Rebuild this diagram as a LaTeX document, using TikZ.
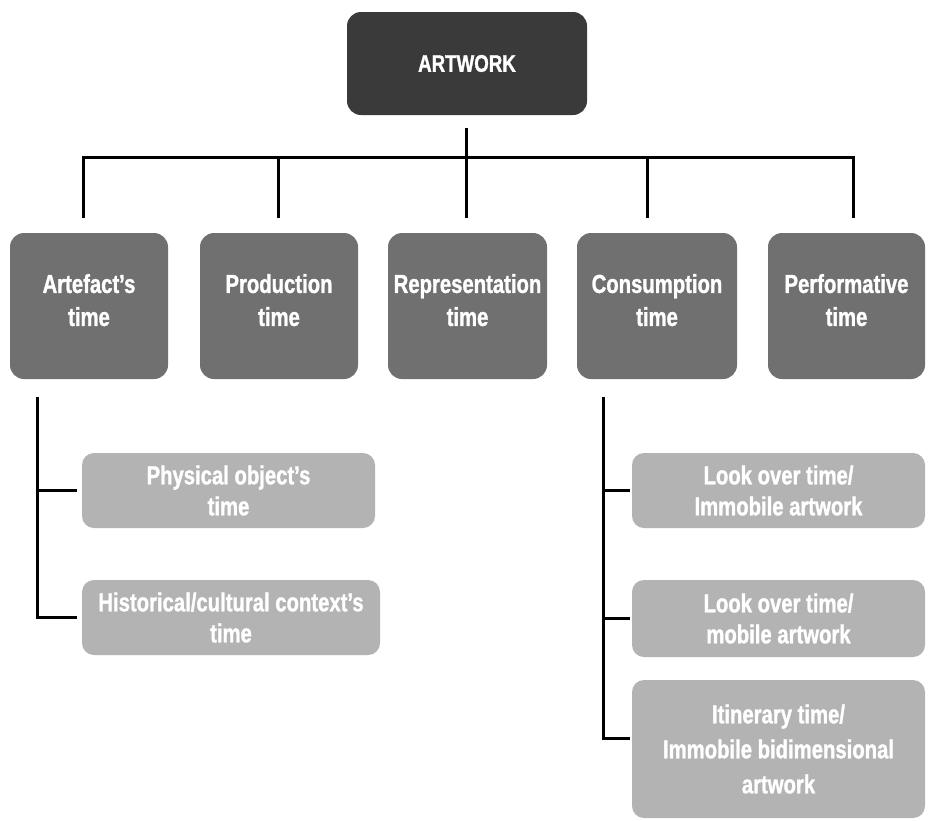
\documentclass[tikz,border=0pt]{standalone}
\usepackage{fontspec}
\setmainfont{Liberation Sans}[FakeStretch=0.78, BoldFeatures={FakeBold=1.2}]
\definecolor{topc}{HTML}{3A3A3A}
\definecolor{midc}{HTML}{707070}
\definecolor{subc}{HTML}{B3B3B3}
\begin{document}
\begin{tikzpicture}[x=1pt,y=-1pt,
  box/.style={rounded corners=14pt, inner sep=0pt, align=center, text=white,
    font=\fontsize{26}{33}\selectfont\bfseries},
  topbox/.style={box, fill=topc, minimum width=240pt, minimum height=103pt,
    font=\fontsize{24}{28}\selectfont\bfseries},
  midbox/.style={box, fill=midc, minimum height=146pt, text depth=12pt},
  subbox/.style={box, fill=subc, rounded corners=12pt, minimum width=293pt, minimum height=75pt,
    font=\fontsize{26}{31}\selectfont\bfseries},
  conn/.style={draw=black, line width=3pt}]
\useasboundingbox (0,0) rectangle (928,820);
\fill[white] (0,0) rectangle (928,820);

\node[topbox] (art) at (467,63.5) {ARTWORK};

\node[midbox, minimum width=158pt] (afct) at (89,306) {Artefact's\\time};
\node[midbox, minimum width=158pt] (prod) at (279,306) {Production\\time};
\node[midbox, minimum width=159pt] (repr) at (467.5,306) {Representation\\time};
\node[midbox, minimum width=160pt] (cons) at (657,306) {Consumption\\time};
\node[midbox, minimum width=157pt] (perf) at (846.5,306) {Performative\\time};

\node[subbox] (phys) at (228.5,490.5) {Physical object's\\time};
\node[subbox, minimum width=298pt] (hist) at (231,617.5) {Historical/cultural context's\\time};

\node[subbox] (look1) at (778.5,490.5) {Look over time/\\Immobile artwork};
\node[subbox, minimum height=77pt] (look2) at (778.5,618.5) {Look over time/\\mobile artwork};
\node[subbox, minimum height=138pt, font=\fontsize{26}{35}\selectfont\bfseries] (itin) at (778.5,749) {Itinerary time/\\Immobile bidimensional\\artwork};

% tree connectors
\coordinate (stem) at (466,128);
\coordinate (barl) at (83,157);
\coordinate (barr) at (853,157);
\coordinate (e1) at (83,218);
\coordinate (e2) at (278,218);
\coordinate (e3) at (466,218);
\coordinate (e4) at (647,218);
\coordinate (e5) at (853,218);
\draw[conn] (stem) -- (e3);
\draw[conn] (e1) -- (barl) -- (barr) -- (e5);
\draw[conn] (e2 |- barl) -- (e2);
\draw[conn] (e4 |- barl) -- (e4);

% left branch
\coordinate (ltop) at (37,397);
\draw[conn] (ltop) |- ([xshift=-5pt]hist.west);
\draw[conn] (ltop |- phys.west) -- ([xshift=-5pt]phys.west);

% right branch
\coordinate (rtop) at (603,397);
\draw[conn] (rtop) |- ([xshift=-2pt,yshift=11pt]itin.west);
\draw[conn] (rtop |- look1.west) -- ([xshift=-2pt]look1.west);
\draw[conn] (rtop |- look2.west) -- ([xshift=-2pt]look2.west);
\end{tikzpicture}
\end{document}
